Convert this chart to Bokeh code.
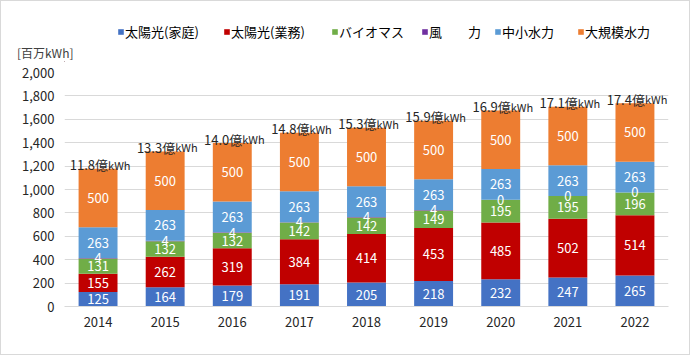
import numpy as np
from bokeh.plotting import figure
from bokeh.layouts import column
from bokeh.models import (ColumnDataSource, Legend, LegendItem, FixedTicker,
                          NumeralTickFormatter, FactorRange, Range1d)
from bokeh.core.properties import value
from bokeh.embed import file_html
from bokeh.resources import INLINE

years = ["2014", "2015", "2016", "2017", "2018", "2019", "2020", "2021", "2022"]
solar_home = [125, 164, 179, 191, 205, 218, 232, 247, 265]
solar_biz = [155, 262, 319, 384, 414, 453, 485, 502, 514]
biomass = [131, 132, 132, 142, 142, 149, 195, 195, 196]
wind = [4, 4, 4, 4, 4, 4, 0, 0, 0]
small_hydro = [263, 263, 263, 263, 263, 263, 263, 263, 263]
large_hydro = [500, 500, 500, 500, 500, 500, 500, 500, 500]
total_labels = ["11.8", "13.3", "14.0", "14.8", "15.3", "15.9", "16.9", "17.1", "17.4"]
series_names = ["太陽光(家庭)", "太陽光(業務)", "バイオマス", "風\u3000\u3000力", "中小水力", "大規模水力"]
y_ticks = [0, 200, 400, 600, 800, 1000, 1200, 1400, 1600, 1800, 2000]
unit_label = "[百万kWh]"

colors = ["#4472C4", "#C00000", "#70AD47", "#7030A0", "#5B9BD5", "#ED7D31"]
FONT = "Noto Sans CJK JP"
legend_x = [53, 159, 267, 357, 430, 513]   # screen offsets of legend entries

series = [solar_home, solar_biz, biomass, wind, small_hydro, large_hydro]
keys = ["s0", "s1", "s2", "s3", "s4", "s5"]
data = {"year": years}
for k, s in zip(keys, series):
    data[k] = s
src = ColumnDataSource(data)

W = 688
HH = 61
# ---------- header (legend + unit label) ----------
head = figure(width=W, height=HH, x_range=Range1d(0, 100), y_range=Range1d(0, HH),
              output_backend="svg", toolbar_location=None, min_border=0)
head.xaxis.visible = False
head.grid.visible = False
head.outline_line_color = None
head.border_fill_color = "white"
ya = head.yaxis[0]
ya.ticker = FixedTicker(ticks=[10])
ya.major_label_overrides = {10: unit_label}
ya.axis_line_color = None
ya.major_tick_line_color = None
ya.minor_tick_line_color = None
ya.major_tick_out = 0
ya.major_tick_in = 0
ya.major_label_standoff = -9
ya.major_label_text_font = FONT
ya.major_label_text_font_size = "12px"
ya.major_label_text_color = "#404040"

dummy_src = ColumnDataSource({"x": [-1000], "top": [1]})
for name, c, lx in zip(series_names, colors, legend_x):
    r = head.vbar(x="x", top="top", width=1, source=dummy_src, color=c, line_color=None)
    lg = Legend(items=[LegendItem(label=name, renderers=[r])],
                orientation="horizontal", location=(lx, 21), glyph_width=7, glyph_height=7,
                label_standoff=1, spacing=0, padding=0, margin=0, label_height=16,
                label_text_font=FONT, label_text_font_size="13px", label_text_color="black",
                background_fill_alpha=0, border_line_color=None)
    head.add_layout(lg, "center")

# ---------- main chart ----------
p = figure(width=W, height=353 - HH, x_range=FactorRange(*years, range_padding=0),
           y_range=(0, 2000), output_backend="svg", toolbar_location=None,
           min_border_left=63, min_border_right=21, min_border_top=10, min_border_bottom=48)
p.outline_line_color = None
p.border_fill_color = "white"

p.vbar_stack(keys, x="year", width=0.58, source=src, color=colors, line_color=None)

# segment labels
arr = np.array(series, dtype=float)
bottoms = np.vstack([np.zeros(len(years)), np.cumsum(arr, axis=0)[:-1]])
lxs, lys, lts = [], [], []
for i in range(len(series)):
    for j, yr in enumerate(years):
        lxs.append(yr)
        lys.append(bottoms[i][j] + arr[i][j] / 2)
        lts.append(str(series[i][j]))
p.text(x=lxs, y=lys, text=lts, text_align="center", text_baseline="middle",
       text_color="white", text_font=value(FONT), text_font_size="13px")

# totals
totals = arr.sum(axis=0)
p.text(x=years, y=list(totals), text=[t + "億" for t in total_labels], text_align="right",
       text_baseline="alphabetic", x_offset=10, y_offset=-4, text_color="#262626",
       text_font=value(FONT), text_font_size="13px")
p.text(x=years, y=list(totals), text=["kWh"] * len(years), text_align="left",
       text_baseline="alphabetic", x_offset=10, y_offset=-4, text_color="#262626",
       text_font=value(FONT), text_font_size="11px")

# axes
p.yaxis.ticker = FixedTicker(ticks=y_ticks)
p.yaxis.formatter = NumeralTickFormatter(format="0,0")
for ax in (p.xaxis[0], p.yaxis[0]):
    ax.major_tick_line_color = None
    ax.minor_tick_line_color = None
    ax.major_tick_out = 0
    ax.major_tick_in = 0
    ax.major_label_text_font = FONT
    ax.major_label_text_font_size = "13px"
    ax.major_label_text_color = "#262626"
p.yaxis.axis_line_color = None
p.yaxis.major_label_standoff = 10
p.xaxis.axis_line_color = "#d9d9d9"
p.xaxis.major_label_standoff = 10
p.xgrid.grid_line_color = None
p.ygrid.grid_line_color = "#d9d9d9"

layout = column(head, p, spacing=0)
layout.styles = {"border": "1px solid #d9d9d9", "background": "white"}

open("out.html", "w").write(file_html(layout, INLINE))
